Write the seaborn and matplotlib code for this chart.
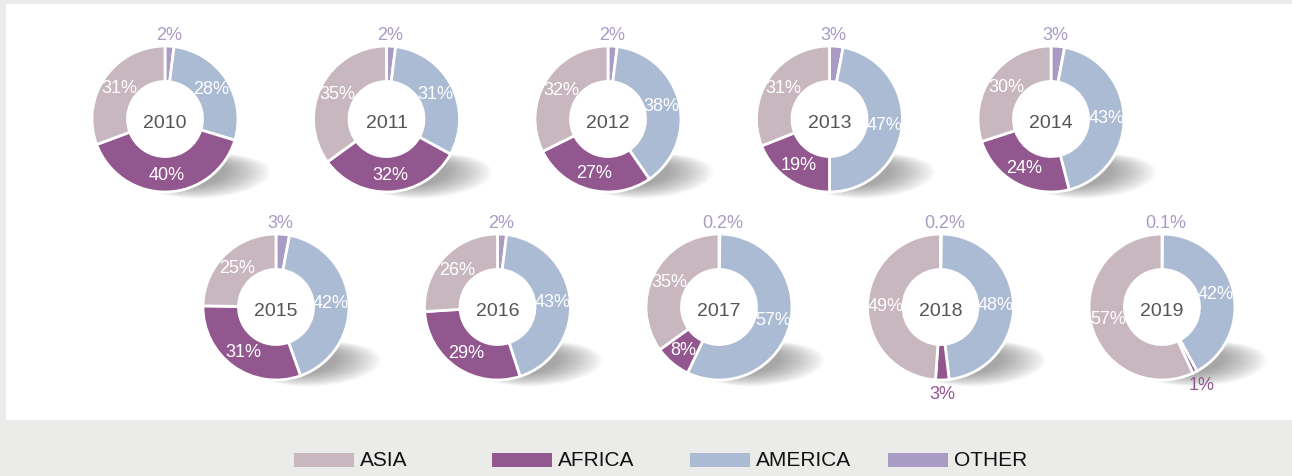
import matplotlib
matplotlib.use("Agg")
import matplotlib.pyplot as plt
import seaborn as sns
import numpy as np
from matplotlib.patches import Rectangle, Ellipse, Circle

sns.set_theme(style="white")
plt.rcParams["font.family"] = ["Liberation Sans", "DejaVu Sans"]

# --- data ---
years = [2010, 2011, 2012, 2013, 2014, 2015, 2016, 2017, 2018, 2019]
asia = [31, 35, 32, 31, 30, 25, 26, 35, 49, 57]
africa = [40, 32, 27, 19, 24, 31, 29, 8, 3, 1]
america = [28, 31, 38, 47, 43, 42, 43, 57, 48, 42]
other = [2, 2, 2, 3, 3, 3, 2, 0.2, 0.2, 0.1]
regions = ["ASIA", "AFRICA", "AMERICA", "OTHER"]

colors = dict(zip(regions, sns.color_palette(["#c9b7c0", "#935790", "#abbbd3", "#a99bc4"])))

W, H = 1292, 477
fig = plt.figure(figsize=(W / 100, H / 100), dpi=100, facecolor="#ebebe9")
ax = fig.add_axes([0, 0, 1, 1])

# white panel
ax.add_patch(Rectangle((6, H - 421), W - 6, 416, facecolor="white", edgecolor="none", zorder=0))

R, r_in = 73, 37.5
width = R - r_in


def fmt(v):
    return f"{v:g}%"


for i, yr in enumerate(years):
    row, col = divmod(i, 5)
    cx = (165 if row == 0 else 276) + col * 221.5
    cy = H - (120 if row == 0 else 308)

    # soft shadow, bottom right
    for k in range(16):
        f = k / 15
        ax.add_patch(Ellipse((cx + 42 - 16 * f, cy - 57 + 3 * f), 126 - 56 * f, 44 - 18 * f,
                             angle=4, facecolor="#444444", edgecolor="none",
                             alpha=0.035, zorder=1))

    vals = [other[i], america[i], africa[i], asia[i]]
    names = ["OTHER", "AMERICA", "AFRICA", "ASIA"]
    wedges, _ = ax.pie(vals, colors=[colors[n] for n in names], startangle=90,
                       counterclock=False, center=(cx, cy), radius=R,
                       wedgeprops=dict(width=width, edgecolor="white", linewidth=2))
    for w in wedges:
        w.set_zorder(2)
    ax.add_patch(Circle((cx, cy), r_in - 1, facecolor="white", edgecolor="none", zorder=2.5))

    ax.text(cx, cy - 3, str(yr), ha="center", va="center", fontsize=14, color="#555555", zorder=3)

    total = sum(vals)
    start = 90.0
    for v, n in zip(vals, names):
        sweep = 360 * v / total
        mid = np.deg2rad(start - sweep / 2)
        start -= sweep
        if n == "OTHER":
            ax.text(cx + 4, cy + R + 11, fmt(v), ha="center", va="center",
                    fontsize=13, color="#a99bc4", zorder=3)
        elif v < 5:
            rr = R + 14
            ax.text(cx + rr * np.cos(mid), cy + rr * np.sin(mid), fmt(v), ha="center",
                    va="center", fontsize=13, color="#935790", zorder=3)
        else:
            rr = (R + r_in) / 2
            ax.text(cx + rr * np.cos(mid), cy + rr * np.sin(mid), fmt(v), ha="center",
                    va="center", fontsize=13, color="white", zorder=3)

# legend
for j, n in enumerate(regions):
    x0 = 294 + j * 198
    ax.add_patch(Rectangle((x0, H - 468), 60, 14, facecolor=colors[n], edgecolor="none"))
    ax.text(x0 + 66, H - 461, n, ha="left", va="center", fontsize=15, color="#111111")

# pie() resets the limits, so set them last
ax.set_xlim(0, W)
ax.set_ylim(0, H)
ax.set_aspect("equal")
ax.axis("off")

fig.savefig("out.png", dpi=100, facecolor=fig.get_facecolor())
